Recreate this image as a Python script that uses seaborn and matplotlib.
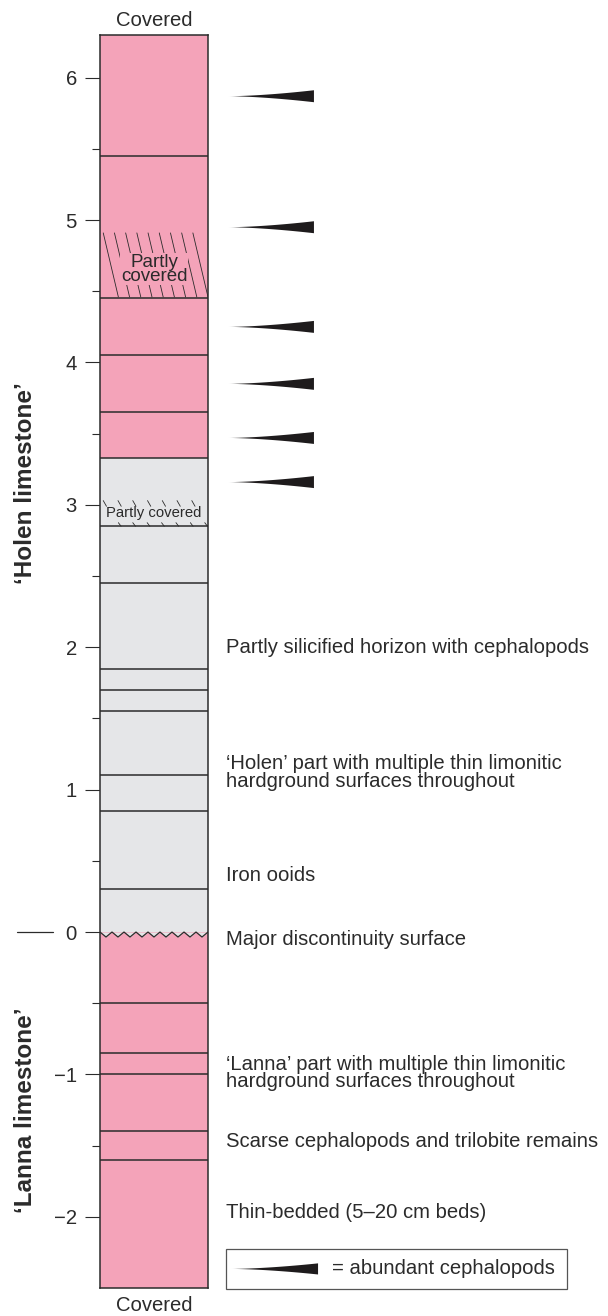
import numpy as np
import matplotlib.pyplot as plt
import seaborn as sns
from matplotlib.patches import Polygon, Rectangle

# headless
plt.switch_backend('Agg')

sns.set_style('ticks')
plt.rcParams['font.family'] = ['Liberation Sans', 'DejaVu Sans']

PINK = '#f4a3b9'
GREY = '#e5e6e8'
INK = '#2b2b2b'
FS = 14.6

# bed boundaries, metres relative to the major discontinuity
lanna_beds = [-2.5, -1.6, -1.4, -1.0, -0.85, -0.5, 0.0]
holen_grey_beds = [0.0, 0.30, 0.85, 1.10, 1.55, 1.70, 1.85, 2.45, 2.85, 3.33]
holen_pink_beds = [3.33, 3.65, 4.05, 4.45, 5.45, 6.3]

# levels with abundant cephalopods
cephalopod_levels = [5.87, 4.95, 4.25, 3.85, 3.47, 3.16]

# partly covered intervals
covered_upper = (4.46, 4.91)
covered_lower = (2.85, 3.03)

note_levels = [2.0, 1.12, 0.40, -0.05, -0.99, -1.47, -1.97]
note_texts = [
    'Partly silicified horizon with cephalopods',
    '\u2018Holen\u2019 part with multiple thin limonitic\nhardground surfaces throughout',
    'Iron ooids',
    'Major discontinuity surface',
    '\u2018Lanna\u2019 part with multiple thin limonitic\nhardground surfaces throughout',
    'Scarse cephalopods and trilobite remains',
    'Thin-bedded (5\u201320 cm beds)',
]

major_ticks = list(range(-2, 7))
minor_ticks = [-1.5, -0.5, 0.5, 1.5, 2.5, 3.5, 4.5, 5.5]

fig = plt.figure(figsize=(6.08, 13.16), dpi=100)
ax = fig.add_axes([100 / 608, 1 - 1288 / 1316, 108 / 608, 1253 / 1316])
ax.set_xlim(0, 1)
ax.set_ylim(-2.5, 6.3)

# fills
for beds, col in [(lanna_beds, PINK), (holen_grey_beds, GREY), (holen_pink_beds, PINK)]:
    for bot, top in zip(beds[:-1], beds[1:]):
        ax.bar(0.5, top - bot, bottom=bot, width=1, color=col, linewidth=0)

# bed boundaries (skip the discontinuity, drawn as zigzag)
inner = lanna_beds[1:-1] + holen_grey_beds[1:] + holen_pink_beds[1:-1]
ax.hlines(inner, 0, 1, color=INK, lw=1.1, zorder=3)

# zigzag discontinuity
zx = np.linspace(0, 1, 19)
zy = np.array([0.0 if i % 2 == 0 else -0.035 for i in range(19)])
ax.fill_between(zx, zy, 0, color=GREY, lw=0, zorder=2)
ax.plot(zx, zy, color=INK, lw=0.9, zorder=3)

# partly covered, upper (long hatch)
b, t = covered_upper
for x0 in np.linspace(0.03, 0.86, 9):
    ax.plot([x0, x0 + 0.14], [t, b], color=INK, lw=0.6, zorder=2)
ax.text(0.5, 4.655, 'Partly\ncovered', ha='center', va='center',
        fontsize=13.5, color=INK, linespacing=0.78, zorder=4,
        bbox=dict(facecolor=PINK, edgecolor='none', pad=0.3))

# partly covered, lower (short hatch marks)
b, t = covered_lower
for x0 in np.linspace(0.03, 0.85, 7):
    ax.plot([x0, x0 + 0.03], [t, t - 0.04], color=INK, lw=0.6, zorder=2)
for x0 in np.linspace(0.17, 0.97, 7):
    ax.plot([x0, x0 + 0.025], [b + 0.025, b], color=INK, lw=0.6, zorder=2)
ax.text(0.5, 2.94, 'Partly covered', ha='center', va='center', fontsize=10.7,
        color=INK, zorder=4)

# spines and ticks
for s in ax.spines.values():
    s.set_color(INK)
    s.set_linewidth(1.1)
    s.set_zorder(5)
ax.set_xticks([])
ax.set_yticks(major_ticks)
ax.set_yticklabels([str(v).replace('-', '\u2212') for v in major_ticks])
ax.set_yticks(minor_ticks, minor=True)
ax.tick_params(axis='y', which='major', length=10.8, width=0.8, color=INK,
               pad=5.8, labelsize=FS, labelcolor=INK)
ax.tick_params(axis='y', which='minor', length=5.8, width=0.8, color=INK)

# covered labels
ax.text(0.5, 6.405, 'Covered', ha='center', va='center', fontsize=FS,
        color=INK, clip_on=False)
ax.text(0.5, -2.62, 'Covered', ha='center', va='center', fontsize=FS,
        color=INK, clip_on=False)

# formation labels
ax.text(-0.694, 3.15, '\u2018Holen limestone\u2019', rotation=90, ha='center',
        va='center', fontsize=17.5, fontweight='bold', color=INK, clip_on=False)
ax.text(-0.694, -1.25, '\u2018Lanna limestone\u2019', rotation=90, ha='center',
        va='center', fontsize=17.5, fontweight='bold', color=INK, clip_on=False)
ax.plot([-0.77, -0.435], [0, 0], color=INK, lw=0.9, clip_on=False)


def wedge(x0, x1, y, half):
    tt = np.linspace(0, 1, 40)
    xs = x0 + (x1 - x0) * tt
    up = y + half * tt ** 1.6
    lo = y - half * tt ** 1.6
    pts = np.column_stack([np.r_[xs, xs[::-1]], np.r_[up, lo[::-1]]])
    ax.add_patch(Polygon(pts, closed=True, facecolor='#1e1b1c', edgecolor='none',
                         clip_on=False))


for lev in cephalopod_levels:
    wedge(1.194, 1.981, lev, 0.042)

# notes
for lev, txt in zip(note_levels, note_texts):
    ax.text(1.167, lev, txt, ha='left', va='center', fontsize=FS, color=INK,
            linespacing=0.92, clip_on=False)

# legend box
ax.add_patch(Rectangle((1.167, -2.506), 3.157, 0.281, fill=False,
                       edgecolor='#555555', lw=0.9, clip_on=False))
wedge(1.222, 2.019, -2.366, 0.039)
ax.text(2.148, -2.366, '= abundant cephalopods', ha='left', va='center',
        fontsize=FS, color=INK, clip_on=False)

fig.savefig('out.png', dpi=100)
plt.close(fig)
